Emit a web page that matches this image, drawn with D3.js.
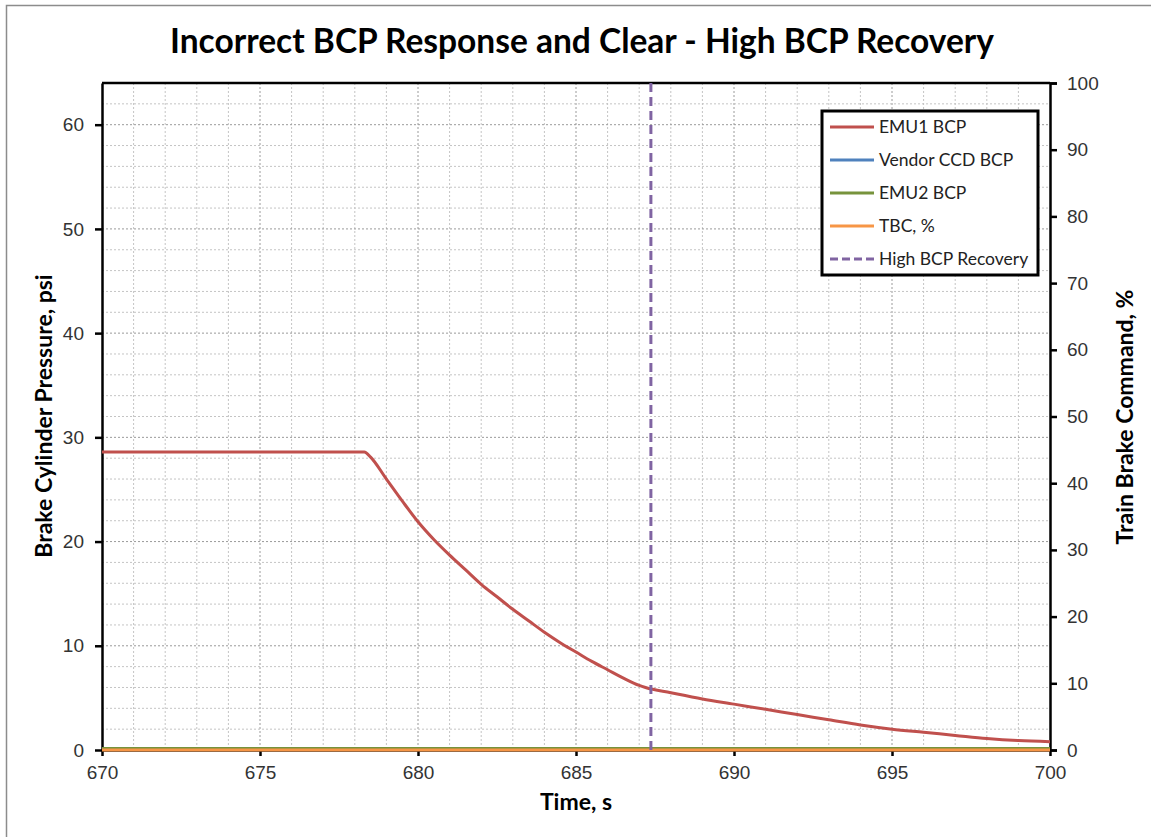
<!DOCTYPE html>
<html>
<head>
<meta charset="utf-8">
<script src="https://cdn.jsdelivr.net/npm/d3@7"></script>
<style>
  body { margin: 0; background: #fff; }
  svg { font-family: Lato, "Open Sans", sans-serif; }
</style>
</head>
<body>
<div id="chart"></div>
<script>
// time (s) and EMU1 brake cylinder pressure (psi)
const emu1Time = [670, 678.3, 678.5, 679, 679.5, 680, 680.5, 681, 681.5, 682, 682.5, 683, 683.5, 684, 684.5, 685, 685.5, 686, 686.5, 687, 687.2, 688, 689, 690, 691, 692, 693, 694, 695, 696, 697, 698, 699, 700];
const emu1Bcp = [28.6, 28.6, 28.1, 26.0, 23.9, 21.9, 20.2, 18.7, 17.3, 15.9, 14.7, 13.5, 12.4, 11.3, 10.3, 9.4, 8.5, 7.7, 6.9, 6.2, 6.0, 5.5, 4.9, 4.4, 3.9, 3.4, 2.9, 2.4, 2.0, 1.7, 1.4, 1.1, 0.9, 0.8];
const flatTime = [670, 700];
const vendorBcp = [0.15, 0.15];
const emu2Bcp = [0.15, 0.15];
const tbcPct = [0, 0];
const recoveryTime = 687.37;

const xTicks = [670, 675, 680, 685, 690, 695, 700];
const leftTicks = [0, 10, 20, 30, 40, 50, 60];
const rightTicks = [0, 10, 20, 30, 40, 50, 60, 70, 80, 90, 100];

const legendNames = ["EMU1 BCP", "Vendor CCD BCP", "EMU2 BCP", "TBC, %", "High BCP Recovery"];
const colors = ["#C0504D", "#4F81BD", "#77933C", "#F79646", "#8064A2"];

const W = 1151, H = 837;
const m = {left: 102, right: 1050, top: 83, bottom: 750};

const svg = d3.select("#chart").append("svg")
  .attr("width", W).attr("height", H);

svg.append("rect").attr("x", 6.5).attr("y", 5.5)
  .attr("width", W + 10).attr("height", H + 10)
  .attr("fill", "none").attr("stroke", "#8c8c8c").attr("stroke-width", 1.5);

const x = d3.scaleLinear().domain([670, 700]).range([m.left, m.right]);
const yL = d3.scaleLinear().domain([0, 64]).range([m.bottom, m.top]);
const yR = d3.scaleLinear().domain([0, 100]).range([m.bottom, m.top]);

// grid
const grid = svg.append("g");
d3.range(671, 700).forEach(t => {
  grid.append("line")
    .attr("x1", x(t)).attr("x2", x(t)).attr("y1", m.top).attr("y2", m.bottom)
    .attr("stroke", t % 5 === 0 ? "#9a9a9a" : "#c4c4c4")
    .attr("stroke-width", 1).attr("stroke-dasharray", "2,2");
});
d3.range(2, 64, 2).forEach(v => {
  grid.append("line")
    .attr("x1", m.left).attr("x2", m.right).attr("y1", yL(v)).attr("y2", yL(v))
    .attr("stroke", v % 10 === 0 ? "#9a9a9a" : "#c4c4c4")
    .attr("stroke-width", 1).attr("stroke-dasharray", "2,2");
});

// axes
const tickFont = g => g.selectAll("text")
  .style("font-size", "19px").attr("fill", "#333");

svg.append("g").attr("transform", `translate(0,${m.bottom})`)
  .call(d3.axisBottom(x).tickValues(xTicks).tickSize(6).tickPadding(10).tickSizeOuter(0))
  .call(g => g.select(".domain").attr("stroke-width", 2.5))
  .call(g => g.selectAll("line").attr("stroke-width", 2.5))
  .call(tickFont);

svg.append("g").attr("transform", `translate(${m.left},0)`)
  .call(d3.axisLeft(yL).tickValues(leftTicks).tickSize(7).tickPadding(11).tickSizeOuter(0))
  .call(g => g.select(".domain").attr("stroke-width", 2.5))
  .call(g => g.selectAll("line").attr("stroke-width", 2.5))
  .call(tickFont);

svg.append("g").attr("transform", `translate(${m.right},0)`)
  .call(d3.axisRight(yR).tickValues(rightTicks).tickSize(7).tickPadding(10).tickSizeOuter(7))
  .call(g => g.select(".domain").attr("stroke-width", 2.5))
  .call(g => g.selectAll("line").attr("stroke-width", 2.5))
  .call(tickFont);

svg.append("line")
  .attr("x1", m.left).attr("x2", m.right).attr("y1", m.top).attr("y2", m.top)
  .attr("stroke", "#000").attr("stroke-width", 2.5);

// series
const lineL = d3.line().x(d => x(d[0])).y(d => yL(d[1])).curve(d3.curveMonotoneX);
const lineR = d3.line().x(d => x(d[0])).y(d => yR(d[1]));

const series = [
  {pts: d3.zip(emu1Time, emu1Bcp), fn: lineL, c: colors[0]},
  {pts: d3.zip(flatTime, vendorBcp), fn: lineL, c: colors[1]},
  {pts: d3.zip(flatTime, emu2Bcp), fn: lineL, c: colors[2]},
  {pts: d3.zip(flatTime, tbcPct), fn: lineR, c: colors[3]}
];
series.forEach(s => {
  svg.append("path").attr("d", s.fn(s.pts))
    .attr("fill", "none").attr("stroke", s.c).attr("stroke-width", 3);
});

svg.append("line")
  .attr("x1", x(recoveryTime)).attr("x2", x(recoveryTime))
  .attr("y1", m.top).attr("y2", m.bottom)
  .attr("stroke", colors[4]).attr("stroke-width", 3).attr("stroke-dasharray", "9,5");

// titles
svg.append("text").attr("x", 582).attr("y", 53).attr("text-anchor", "middle")
  .style("font-size", "33.5px").style("font-weight", "bold").text("Incorrect BCP Response and Clear - High BCP Recovery");

svg.append("text").attr("x", 576).attr("y", 810).attr("text-anchor", "middle")
  .style("font-size", "23px").style("font-weight", "bold").text("Time, s");

svg.append("text").attr("transform", "translate(52,416) rotate(-90)").attr("text-anchor", "middle")
  .style("font-size", "23px").style("font-weight", "bold").text("Brake Cylinder Pressure, psi");

svg.append("text").attr("transform", "translate(1133,417) rotate(-90)").attr("text-anchor", "middle")
  .style("font-size", "23px").style("font-weight", "bold").text("Train Brake Command, %");

// legend
const lg = svg.append("g");
lg.append("rect").attr("x", 822).attr("y", 111).attr("width", 216).attr("height", 164)
  .attr("fill", "#fff").attr("stroke", "#000").attr("stroke-width", 3);
legendNames.forEach((name, i) => {
  const yy = 127 + i * 33;
  lg.append("line").attr("x1", 830).attr("x2", 874).attr("y1", yy).attr("y2", yy)
    .attr("stroke", colors[i]).attr("stroke-width", 3)
    .attr("stroke-dasharray", i === 4 ? "8,4" : null);
  lg.append("text").attr("x", 879).attr("y", yy + 6)
    .style("font-size", "17.5px").attr("fill", "#222").text(name);
});
</script>
</body>
</html>
